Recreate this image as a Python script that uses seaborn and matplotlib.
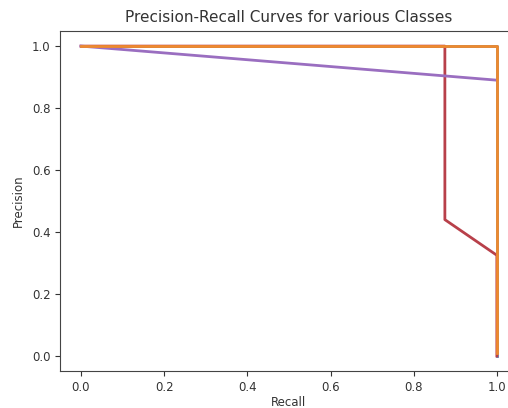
import pandas as pd
import matplotlib
matplotlib.use('Agg')
import matplotlib.pyplot as plt
import seaborn as sns

# precision-recall points per class
classes = ['Class 0', 'Class 1', 'Class 2', 'Class 3']
recall_0 = [0.0, 1.0, 1.0]
precision_0 = [1.0, 1.0, 0.0]
recall_1 = [0.0, 0.875, 0.875, 1.0, 1.0]
precision_1 = [1.0, 1.0, 0.44, 0.325, 0.0]
recall_2 = [0.0, 1.0]
precision_2 = [1.0, 0.89]
recall_3 = [0.0, 1.0, 1.0]
precision_3 = [1.0, 1.0, 0.01]
colors = ['#5a7fb5', '#b8404a', '#9a6ec0', '#ee8a2e']

recalls = [recall_0, recall_1, recall_2, recall_3]
precisions = [precision_0, precision_1, precision_2, precision_3]

frames = []
for name, r, p in zip(classes, recalls, precisions):
    frames.append(pd.DataFrame({'Recall': r, 'Precision': p, 'cls': name,
                                'order': range(len(r))}))
df = pd.concat(frames, ignore_index=True)

fig = plt.figure(figsize=(5.08, 4.08), dpi=100)
ax = fig.add_axes([0.1185, 0.0895, 0.9005, 0.8355])

for name, color in zip(classes, colors):
    sub = df[df['cls'] == name]
    sns.lineplot(data=sub, x='Recall', y='Precision', sort=False, estimator=None,
                 color=color, lw=2, ax=ax)

ax.set_xlim(-0.05, 1.05)
ax.set_ylim(-0.05, 1.05)
ax.set_title('Precision-Recall Curves for various Classes', fontsize=11, color='#333333')
ax.set_xlabel('Recall', fontsize=8.5, color='#333333', labelpad=1)
ax.set_ylabel('Precision', fontsize=8.5, color='#333333', labelpad=5)
ax.tick_params(labelsize=8.5, colors='#333333')
for s in ax.spines.values():
    s.set_color('#444444')

plt.savefig('out.png', dpi=100)
plt.close()
